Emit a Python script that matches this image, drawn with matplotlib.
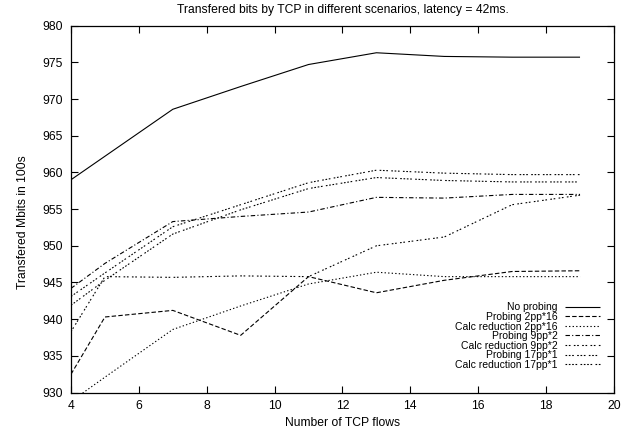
import matplotlib
matplotlib.use("Agg")
import matplotlib.pyplot as plt

plt.rcParams['font.family'] = ['Liberation Sans', 'DejaVu Sans']
plt.rcParams['font.size'] = 8.7

flows = [4, 5, 7, 9, 11, 13, 15, 17, 19]

no_probing = [959.0, 962.2, 968.6, 971.7, 974.7, 976.3, 975.8, 975.7, 975.7]
probing_2pp16 = [932.5, 940.3, 941.2, 937.8, 945.8, 943.6, 945.3, 946.5, 946.6]
calc_2pp16 = [928.8, 932.1, 938.6, 941.8, 944.8, 946.4, 945.8, 945.8, 945.8]
probing_9pp2 = [944.2, 947.6, 953.3, 954.0, 954.6, 956.6, 956.5, 957.0, 957.0]
calc_9pp2 = [938.3, 945.8, 945.7, 945.9, 945.8, 950.0, 951.2, 955.6, 956.9]
probing_17pp1 = [943.1, 946.3, 952.6, 955.6, 958.6, 960.3, 959.9, 959.7, 959.7]
calc_17pp1 = [941.9, 945.3, 951.6, 954.9, 957.8, 959.3, 958.9, 958.7, 958.7]

series = [
    ("No probing", no_probing, (0, ())),
    ("Probing 2pp*16", probing_2pp16, (0, (4, 2))),
    ("Calc reduction 2pp*16", calc_2pp16, (0, (1.2, 2))),
    ("Probing 9pp*2", probing_9pp2, (0, (4, 2, 1, 2))),
    ("Calc reduction 9pp*2", calc_9pp2, (0, (1.5, 1.5, 1.5, 3))),
    ("Probing 17pp*1", probing_17pp1, (0, (1.5, 1.5, 1.5, 1.5, 1.5, 3))),
    ("Calc reduction 17pp*1", calc_17pp1, (0, (1.5, 1.5, 1.5, 1.5, 1.5, 1.5, 1.5, 3))),
]

fig = plt.figure(figsize=(6.31, 4.34), dpi=100)
ax = fig.add_axes([0.1125, 0.0954, 0.8605, 0.8456])

for label, vals, ls in series:
    ax.plot(flows, vals, color='black', lw=0.8, linestyle=ls, label=label)

ax.set_xlim(4, 20)
ax.set_ylim(930, 980)
ax.set_xticks(range(4, 21, 2))
ax.set_yticks(range(930, 981, 5))
ax.tick_params(direction='in', top=True, right=True, length=5, width=0.8)
ax.tick_params(axis='x', pad=5)
ax.tick_params(axis='y', pad=6)
for s in ax.spines.values():
    s.set_linewidth(0.9)

ax.set_title("Transfered bits by TCP in different scenarios, latency = 42ms.", fontsize=8.7, pad=9)
ax.set_xlabel("Number of TCP flows", labelpad=4)
ax.set_ylabel("Transfered Mbits in 100s")
ax.yaxis.set_label_coords(-0.078, 0.465)

ax.legend(loc='lower right', bbox_to_anchor=(0.974, 0.062), frameon=False,
          fontsize=7.5, markerfirst=False, handlelength=3.3, handletextpad=0.75,
          labelspacing=-0.04, borderpad=0, borderaxespad=0)

fig.savefig("out.png", dpi=100)
